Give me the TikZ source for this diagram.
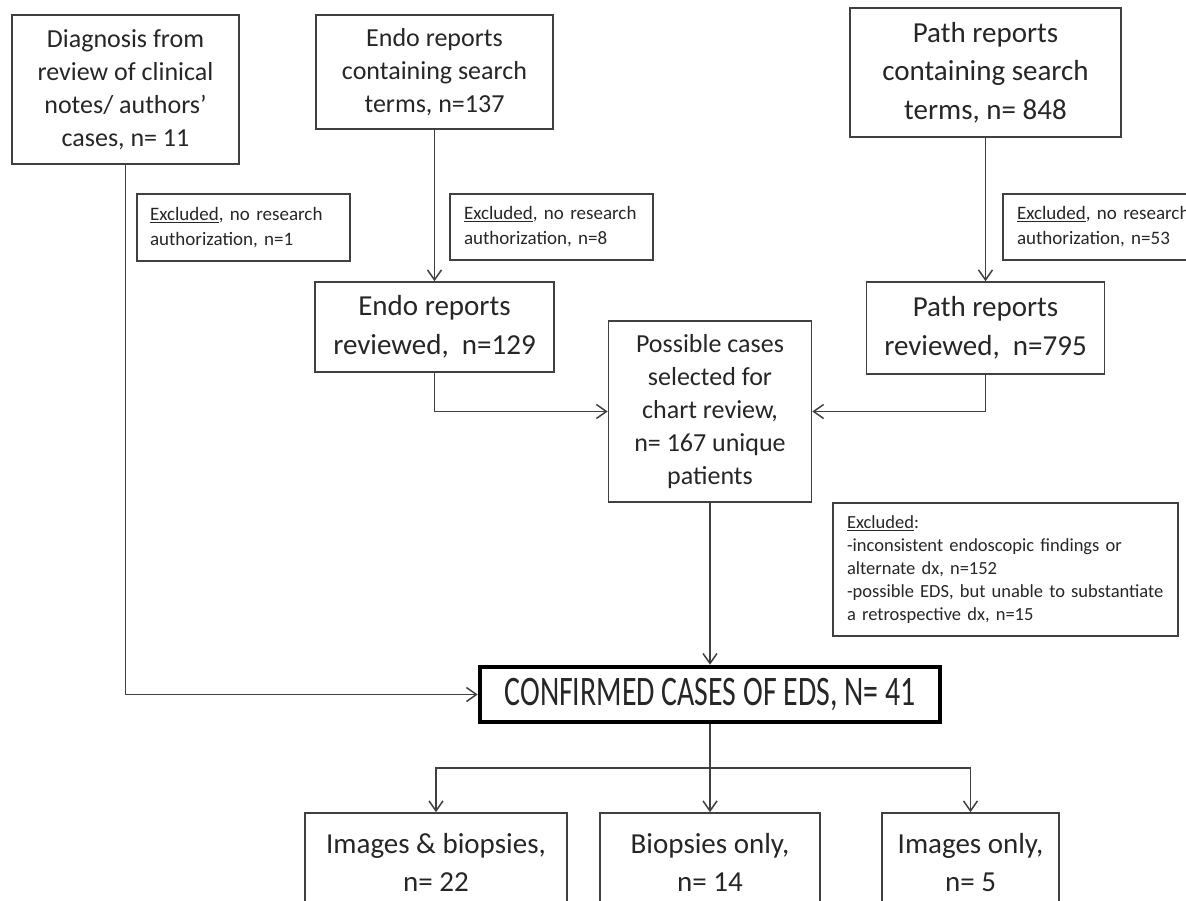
\documentclass[tikz,border=0pt]{standalone}
\usepackage{fontspec}
\setmainfont{Carlito}
\newfontfamily\condfont[FakeStretch=0.71]{Carlito}
\usetikzlibrary{arrows.meta}
\newcommand{\txtmid}{\fontsize{26}{33}\selectfont}
\newcommand{\txtbig}{\fontsize{29}{38.5}\selectfont}
\tikzset{
  box/.style={draw=black!75, line width=1.6pt, inner sep=0pt, align=center, text=black!85},
  smallbox/.style={draw=black!75, line width=1.4pt, inner ysep=0pt, align=left, text=black!85, font=\fontsize{19}{25}\selectfont},
  conn/.style={draw=black!75, line width=1.5pt},
  arr/.style={conn, -{Straight Barb[length=10pt,width=14pt,line width=1.5pt]}},
}
\begin{document}
\begin{tikzpicture}[x=1pt,y=-1pt]
\useasboundingbox (0,0) rectangle (1186,901);
% sources
\node[box, minimum width=227pt, minimum height=149pt, font=\txtmid] (diag) at (125.5,89.5) {Diagnosis from\\review of clinical\\notes/ authors'\\cases, n= 11};
\node[box, minimum width=237pt, minimum height=114pt, font=\txtmid] (endosearch) at (434.5,72) {Endo reports\\containing search\\terms, n=137};
\node[box, minimum width=271pt, minimum height=129pt, font=\txtbig] (pathsearch) at (985.5,72.5) {Path reports\\containing search\\terms, n= 848};
% exclusions
\node[smallbox, text width=187pt, inner xsep=13pt, minimum height=67pt] (exclendo) at (243.5,227.5) {\underline{Excluded}, no research\\authorization, n=1};
\node[smallbox, text width=175pt, inner xsep=14pt, minimum height=66pt] (exclmid) at (551.5,227) {\underline{Excluded}, no research\\authorization, n=8};
\node[smallbox, text width=185pt, inner xsep=14pt, minimum height=66pt] (exclpath) at (1109.5,227) {\underline{Excluded}, no research\\authorization, n=53};
% reviewed
\node[box, minimum width=239pt, minimum height=90pt, font=\txtbig] (endorev) at (434.5,327) {Endo reports\\reviewed,\ \ n=129};
\node[box, minimum width=238pt, minimum height=92pt, font=\txtbig] (pathrev) at (985.5,328) {Path reports\\reviewed,\ \ n=795};
\node[box, minimum width=203pt, minimum height=181pt, font=\txtmid] (possible) at (710,411.5) {Possible cases\\selected for\\chart review,\\n= 167 unique\\patients};
\node[smallbox, text width=317pt, inner xsep=14pt, minimum height=133pt, font=\fontsize{18.5}{23}\selectfont] (exclchart) at (1005.5,569.5) {\underline{Excluded}:\\-inconsistent endoscopic findings or\\alternate dx, n=152\\-possible EDS, but unable to substantiate\\a retrospective dx, n=15};
% result
\node[box, draw=black, line width=4.5pt, minimum width=460pt, minimum height=55pt, font={\condfont\fontsize{42}{46}\selectfont}] (confirmed) at (710,694.5) {CONFIRMED CASES OF EDS, N= 41};
\node[box, minimum width=262pt, minimum height=99pt, font=\txtbig] (imgbiop) at (436,862.5) {Images \& biopsies,\\n= 22};
\node[box, minimum width=220pt, minimum height=99pt, font=\txtbig] (biop) at (710,862.5) {Biopsies only,\\n= 14};
\node[box, minimum width=177pt, minimum height=99pt, font=\txtbig] (imgonly) at (970.5,862.5) {Images only,\\n= 5};
\coordinate (split) at (710,768);
% connectors
\draw[arr] (endosearch.south) -- (endorev.north);
\draw[arr] (pathsearch.south) -- (pathrev.north);
\draw[arr] (endorev.south) |- (possible.west);
\draw[arr] (pathrev.south) |- (possible.east);
\draw[arr] (possible.south) -- (confirmed.north);
\draw[arr] (diag.south) |- (confirmed.west);
\draw[conn] (confirmed.south) -- (split);
\draw[arr] (split) -| (imgbiop.north);
\draw[arr] (split) -- (biop.north);
\draw[arr] (split) -| (imgonly.north);
\end{tikzpicture}
\end{document}
